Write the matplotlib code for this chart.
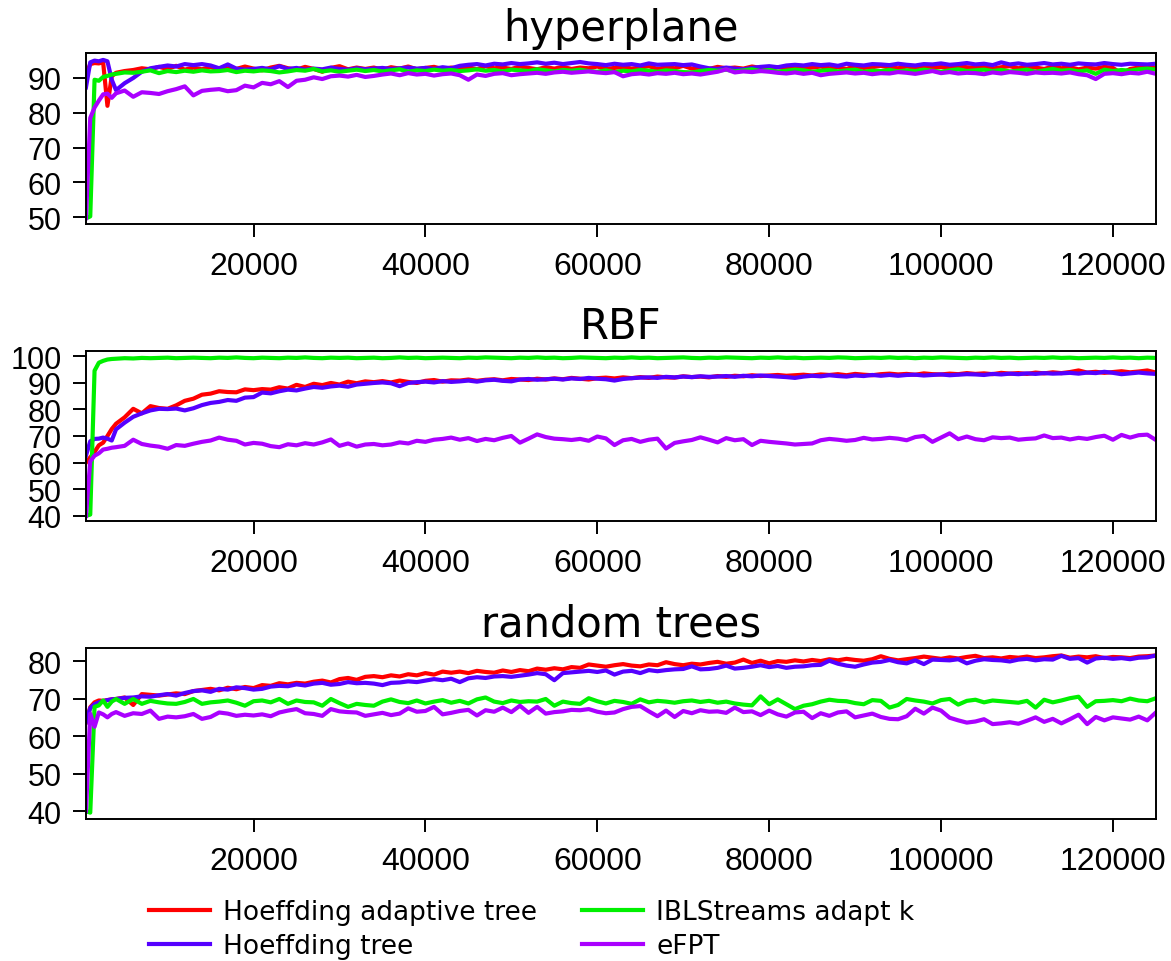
import matplotlib
matplotlib.use('Agg')
import matplotlib.pyplot as plt
import numpy as np

# x positions (number of instances)
x = [500, 1000, 1500, 2000, 2500, 3000, 3500] + list(range(4000, 125001, 1000))

series_names = ['Hoeffding adaptive tree', 'Hoeffding tree', 'IBLStreams adapt k', 'eFPT']
series_colors = ['#FF0000', '#5500FF', '#00F000', '#AA00FF']

# ---- hyperplane ----
hyp_hat = [91, 94, 94.3, 94.2, 94.5, 82, 90.5,
           91.5, 92, 92.3, 92.8, 92.5, 93.2, 92.6, 93.5, 92.4, 93,
           92.5, 93.2, 92.3, 92.8, 92.6, 93.3, 92.7, 92.2, 93, 93.5,
           92.8, 92.4, 93.2, 92.6, 91.8, 92.9, 93.4, 92.5, 93, 92.6,
           93, 92.4, 93.1, 92.7, 93.3, 92.5, 92.9, 93.2, 92.6, 93,
           92.7, 93.1, 92.5, 93.4, 92.8, 93, 92.6, 93.3, 92.9, 92.5,
           93.1, 92.7, 93.2, 92.6, 93, 92.8, 93.3, 92.6, 92.9, 93.2,
           92.7, 93, 93.4, 92.6, 93.1, 92.8, 93.5, 92.7, 93, 92.6,
           93.2, 92.8, 93, 92.7, 93.3, 92.9, 92.6, 93.1, 92.8, 93.2,
           92.7, 93, 93.3, 92.8, 93.1, 92.6, 93.4, 92.9, 93.1, 93.5,
           93, 92.8, 93.3, 93, 93.5, 92.9, 93.2, 92.8, 93.4, 93.1,
           92.9, 93.3, 92.7, 93.1, 93.4, 92.8, 93.2, 93, 92.6, 93.3,
           92.8, 93.1, 92.5, 93, 92.7, 93.2, 92.9, 91.3, 92.6, 93,
           93.2, 92.8]
hyp_ht = [87.3, 94.5, 95, 94.8, 95.2, 94.8, 89.5,
          86.5, 88.5, 90, 91.8, 92.8, 93.2, 93.6, 93.3, 94, 93.7,
          94, 93.6, 92.8, 93.9, 92.7, 92.4, 92.6, 92.9, 92.5, 93.4,
          92.6, 92.9, 92.4, 92.7, 92.5, 93, 92.6, 92.4, 92.8, 92.5,
          92.7, 92.9, 92.6, 92.8, 93, 92.7, 92.9, 92.6, 93.1, 92.8,
          93.5, 93.8, 94, 93.6, 94.1, 93.9, 94.3, 94, 94.2, 94.5,
          94.1, 94.4, 94, 94.3, 94.6, 94.2, 94, 93.7, 94.1, 93.8,
          94, 93.6, 94.2, 93.8, 93.9, 94, 93.7, 93.9, 93.3, 92.8,
          92.6, 93, 92.7, 92.5, 92.9, 93.2, 93.4, 93.1, 93.6, 93.8,
          93.6, 94, 93.7, 93.9, 93.5, 94.1, 93.8, 93.6, 94, 93.9,
          93.7, 94.1, 93.8, 93.6, 94, 93.9, 94.2, 93.8, 94, 94.3,
          93.9, 94.1, 93.7, 94.5, 93.9, 94.2, 93.8, 94, 94.3, 93.9,
          94.1, 93.8, 94.2, 94, 93.9, 94.3, 94, 93.8, 94.1, 94,
          93.9, 94.1]
hyp_ibl = [49.6, 50.2, 89.5, 89.2, 90.3, 90.6, 91,
           91.2, 91.6, 91.5, 91.8, 92.2, 91.4, 92, 91.7, 92.1, 91.8,
           92.2, 91.9, 92, 92.3, 91.7, 92.1, 91.9, 92.2, 92, 91.6,
           91.9, 92.3, 92.1, 92.6, 91.9, 92.2, 91.8, 92.1, 92.4, 92,
           92.3, 91.9, 92.2, 92.5, 91.8, 92.2, 92, 92.4, 92.1, 92.3,
           92, 92.2, 92.5, 92.1, 92.3, 91.9, 92.4, 92.2, 92, 92.5,
           92.2, 91.9, 92.3, 92.1, 92.4, 92, 91.8, 92.2, 91.7, 92.1,
           91.9, 92.3, 92.1, 91.8, 92.2, 92, 91.7, 91.6, 92, 92.3,
           92.1, 92.4, 91.9, 92.2, 92.5, 92, 92.3, 91.8, 92.1, 92.4,
           92.2, 91.8, 92.1, 92.3, 91.9, 92.2, 92.4, 91.8, 92.1, 92,
           92.3, 91.9, 92.2, 92, 92.4, 92.1, 91.8, 92.2, 92.5, 92,
           92.2, 92.4, 92, 92.3, 91.9, 92.1, 92.4, 91.8, 92.2, 92.6,
           92.1, 92.3, 91.9, 92.2, 91.2, 92.4, 92, 92.3, 92.1, 92.5,
           92.7, 92.4]
hyp_efpt = [49.7, 78.5, 81.5, 83.5, 85.3, 85.5, 84.3,
            85.6, 86.4, 84.6, 85.9, 85.7, 85.4, 86.2, 86.8, 87.6, 85,
            86.3, 86.6, 86.8, 86.2, 86.5, 87.8, 87.3, 88.6, 88.2, 89.1,
            87.4, 89.2, 89.5, 90.2, 89.7, 90.5, 90.7, 90.4, 90.9, 90.3,
            90.6, 91, 91.3, 90.8, 91.4, 91, 91.2, 90.7, 91.1, 91.3,
            90.8, 89.5, 91, 90.6, 91.2, 91.4, 90.8, 91.1, 91.3, 91.5,
            91.2, 91.6, 91.8, 91.5, 91.7, 91.9, 91.6, 91.4, 91.7, 90.5,
            91.1, 91.3, 91, 91.4, 91.2, 91.5, 91.1, 91.3, 91, 91.4,
            91.8, 92.5, 91.6, 91.9, 91.7, 92, 91.8, 91.5, 91.3, 91.6,
            91.2, 91.5, 90.8, 91.2, 91.4, 91.6, 91.3, 91.5, 91.1, 91.4,
            91.3, 91.7, 91.5, 91.2, 91.6, 92, 91.4, 91.7, 91.3, 91.5,
            91.4, 91.1, 91.6, 91.3, 91.7, 91.5, 91.2, 91.6, 91.4, 91.5,
            91.3, 91.6, 91.1, 90.8, 89.7, 91.2, 91.4, 91.1, 91.5, 91.3,
            91.8, 91.2]

# ---- RBF ----
rbf_hat = [60, 62, 64, 66.5, 67.5, 70, 72.6,
           74.6, 77, 80.2, 78.5, 81.2, 80.5, 80.2, 81.5, 83.2, 84,
           85.5, 85.9, 86.8, 86.5, 86.4, 87.5, 87.2, 87.6, 87.4, 88.3,
           87.8, 89.2, 88.4, 89.6, 89.1, 89.9, 89.3, 90.4, 89.8, 90.5,
           90.2, 90.6, 90.1, 90.8, 90.3, 89.9, 90.7, 91, 90.4, 90.9,
           90.8, 91.2, 90.7, 91.1, 91.3, 90.9, 91.4, 91.2, 91, 91.5,
           91.2, 91.6, 91.3, 91.8, 91.5, 91.2, 91.7, 91.9, 91.6, 92,
           91.7, 92.1, 91.8, 92.3, 92, 91.9, 92.4, 92.1, 92.3, 92,
           92.5, 92.2, 92.6, 92.4, 92.8, 92.5, 92.7, 92.9, 92.6, 92.8,
           93, 92.7, 93.1, 92.9, 93.2, 92.8, 93.3, 93, 92.8, 93.2,
           93.4, 93.1, 93.3, 93, 93.5, 93.2, 93.1, 93.4, 93.2, 93.6,
           93.3, 93.5, 93.2, 93.7, 93.4, 93.6, 93.3, 93.8, 93.5, 93.9,
           93.6, 94, 94.6, 93.8, 94.1, 93.7, 94, 94.3, 93.9, 94.2,
           94.6, 93.8]
rbf_ht = [62.6, 68, 68.9, 69, 69.4, 69, 68.3,
          72.5, 75, 77.2, 78.5, 79.6, 80.2, 80.1, 80.3, 79.6, 80.4,
          81.6, 82.4, 82.8, 83.5, 83.2, 84.4, 84.6, 86.3, 86, 86.8,
          87.4, 87.1, 87.8, 88.4, 88.1, 88.6, 88.9, 88.5, 89.3, 89.6,
          89.9, 90.1, 89.8, 88.7, 89.9, 90.2, 90.4, 90.1, 90.6, 90.3,
          90.5, 90.8, 90.4, 90.9, 91.1, 90.7, 90.5, 91.2, 91.4, 91.1,
          91.3, 91.5, 91.2, 91.6, 91.4, 91.8, 91.5, 91.3, 90.8, 91.4,
          91.7, 91.9, 92, 91.8, 92.2, 92, 92.3, 92.1, 92.4, 92.2,
          92.3, 92.5, 92.2, 92.6, 92.4, 92.7, 92.5, 92.3, 92.1, 91.8,
          92.3, 92.6, 92.4, 92.8, 92.5, 92.3, 92.7, 92.5, 92.9, 92.6,
          92.9, 92.6, 92.9, 93, 92.7, 92.9, 93.1, 92.8, 93, 93.2,
          93.1, 92.9, 93.3, 93.1, 93.4, 93.2, 93.5, 93.3, 93.6, 93.4,
          93.5, 93.7, 93.4, 93.8, 93.6, 94.1, 93.7, 93.2, 93.5, 93.8,
          93.5, 93.3]
rbf_ibl = [40, 40.5, 94.5, 97.5, 98.2, 98.7, 98.9,
           99.0, 99.2, 99.1, 99.3, 99.2, 99.3, 99.4, 99.2, 99.3, 99.4,
           99.3, 99.2, 99.4, 99.3, 99.5, 99.3, 99.2, 99.4, 99.3, 99.2,
           99.4, 99.3, 99.5, 99.3, 99.2, 99.4, 99.3, 99.4, 99.2, 99.3,
           99.4, 99.2, 99.3, 99.5, 99.3, 99.4, 99.2, 99.3, 99.4, 99.3,
           99.2, 99.4, 99.3, 99.5, 99.4, 99.3, 99.2, 99.4, 99.3, 99.5,
           99.3, 99.4, 99.2, 99.3, 99.5, 99.4, 99.3, 99.2, 99.4, 99.3,
           99.5, 99.3, 99.4, 99.2, 99.3, 99.4, 99.5, 99.3, 99.2, 99.4,
           99.3, 99.5, 99.4, 99.3, 99.2, 99.4, 99.3, 99.5, 99.3, 99.4,
           99.2, 99.3, 99.4, 99.3, 99.5, 99.4, 99.2, 99.3, 99.4, 99.3,
           99.5, 99.3, 99.4, 99.2, 99.4, 99.3, 99.5, 99.4, 99.3, 99.2,
           99.4, 99.3, 99.5, 99.3, 99.4, 99.2, 99.3, 99.4, 99.3, 99.5,
           99.3, 99.4, 99.2, 99.3, 99.4, 99.3, 99.5, 99.3, 99.4, 99.2,
           99.4, 99.3]
rbf_efpt = [40, 60.5, 62.6, 63.5, 64.9, 65.2, 65.6,
            65.8, 66.3, 68.6, 67, 66.4, 66, 65.2, 66.6, 66.3, 67.1,
            67.8, 68.3, 69.4, 68.6, 68.2, 66.8, 67.4, 67.1, 66.2, 65.8,
            66.9, 66.5, 67.3, 66.8, 67.6, 68.7, 66.3, 67.2, 66, 66.8,
            67, 66.5, 66.8, 67.6, 67.2, 68.2, 67.8, 68.6, 68.9, 69.4,
            68.6, 69.2, 68.1, 68.9, 68.4, 69.3, 70, 67.5, 69, 70.6,
            69.6, 69, 68.8, 68.5, 68.9, 68.2, 69.8, 69.1, 66.6, 68.4,
            68.9, 67.8, 68.6, 69, 65.3, 67.4, 68, 68.5, 69.5, 68.6,
            67.6, 69.2, 68.4, 68.8, 66.6, 68.2, 67.8, 67.5, 67.2, 66.8,
            67, 67.2, 68.4, 68.9, 68.6, 68.2, 68.5, 69.3, 68.7, 68.9,
            69.3, 69, 68.4, 69.6, 70, 67.8, 69.4, 71, 68.8, 69.8,
            68.8, 68.4, 69.5, 69.2, 69.4, 68.6, 68.9, 69.1, 70.2, 69.2,
            69.4, 68.7, 69.3, 68.9, 69.6, 70.1, 68.6, 70.4, 69.4, 70.3,
            70.5, 68.5]

# ---- random trees ----
rt_hat = [63.7, 67.7, 69, 69.5, 69.4, 69.6, 69.8,
          69.9, 70.3, 68.3, 71.2, 71, 70.8, 71.1, 71.4, 71.2, 72,
          72.3, 72.6, 72.2, 72.9, 72.5, 73.1, 72.8, 73.6, 73.4, 74.1,
          73.8, 74.2, 74, 74.5, 74.8, 74.3, 75.2, 75.5, 75, 75.8,
          76, 75.7, 76.2, 75.9, 76.5, 76.2, 76.8, 76.4, 77.2, 76.9,
          77.2, 76.8, 77.4, 77.1, 76.9, 77.5, 77.1, 77.6, 77.3, 78,
          77.7, 78.1, 77.8, 78.4, 78.2, 79.1, 78.8, 78.5, 78.9, 79.2,
          78.8, 78.6, 79.1, 78.9, 79.7, 79.2, 78.9, 79.3, 79.1, 79.5,
          79.8, 79.3, 79.6, 80.4, 79.5, 80.1, 79.4, 80, 79.8, 80.2,
          79.9, 80.3, 80, 80.5, 80.2, 80.6, 80.3, 80.1, 80.5, 81.3,
          80.6, 80.2, 80.5, 80.8, 81.2, 80.9, 80.6, 81, 80.7, 81.1,
          81.4, 80.8, 81, 80.7, 81.1, 80.9, 81.2, 80.8, 81, 81.3,
          81.5, 80.9, 81.2, 81, 81.3, 80.8, 81.1, 81, 80.8, 81.2,
          81.3, 81.5]
rt_ht = [63.7, 67.5, 68.5, 69, 69.3, 69.6, 69.8,
         69.9, 70.2, 70.3, 70.6, 70.5, 70.9, 71.2, 70.8, 71.5, 72,
         72.2, 71.8, 72.6, 72.4, 73, 72.8, 72.4, 72.6, 73.2, 73.4,
         73.3, 73.8, 73.5, 74, 74.2, 73.7, 73.9, 74.4, 74.1, 74.2,
         74, 73.6, 74.2, 74.3, 74.6, 74.4, 74.8, 75.2, 74.9, 75.3,
         74.4, 75.4, 75.7, 75.5, 75.9, 76, 75.8, 76.1, 76.4, 76.8,
         76.5, 74.9, 76.8, 77, 77.2, 77.4, 77.1, 77.5, 76.4, 77.2,
         77.4, 76.8, 77.6, 77.3, 77.6, 77.8, 77.9, 78.6, 77.8, 77.9,
         78.2, 78.8, 78, 78.2, 78.5, 78.9, 78.4, 78.7, 78.2, 78.5,
         78.6, 78.9, 79, 80.1, 79.3, 78.8, 78.5, 79.1, 79.6, 79.8,
         80.3, 79.7, 79.4, 80.2, 79.2, 80.4, 80.3, 80.2, 80.5, 79.4,
         80.1, 80.5, 80.3, 80.2, 79.9, 80.4, 80.6, 80.2, 80.5, 80.4,
         81.4, 80.6, 80.8, 79.6, 80.7, 80.9, 80.6, 80.8, 80.5, 80.9,
         81, 81.5]
rt_ibl = [40, 39.6, 67.8, 68.2, 69.5, 67.8, 69.2,
          69.9, 68.6, 69.9, 68.6, 69.4, 69, 68.7, 68.6, 69.1, 69.9,
          68.6, 69, 69.2, 69.5, 68.9, 68.1, 69.3, 69.5, 69, 69.9,
          68.6, 69.5, 69.1, 69, 68.1, 69.9, 68.8, 67.8, 68.6, 68.3,
          68.1, 69.2, 69.8, 69.1, 68.8, 69.5, 68.7, 69.2, 69.6, 68.9,
          69.4, 68.7, 69.8, 70.3, 69.2, 68.8, 69.5, 69.1, 69.3, 69.2,
          69.9, 68.1, 69.2, 68.8, 68.6, 70.1, 69.3, 68.7, 69.4, 69.1,
          68.6, 69.8, 69, 69.4, 69.2, 68.9, 69.3, 69.5, 69.1, 69.4,
          68.9, 69.2, 68.7, 68.4, 68.2, 70.6, 68.5, 69.8, 68.5, 67.2,
          68.1, 68.5, 69.2, 69.7, 69.4, 69.3, 68.8, 68.5, 69.6, 69.4,
          67.6, 68.3, 69.9, 69.5, 69.2, 68.7, 69.6, 69.9, 68.4, 69.4,
          69.7, 69, 69.5, 69.3, 69.1, 68.9, 69.4, 67.6, 69.7, 69,
          69.5, 70.1, 70.5, 67.8, 69.3, 69.4, 69.6, 69.3, 70, 69.5,
          69.3, 70.1]
rt_efpt = [40, 66, 62.5, 66.3, 65.8, 65, 65.9,
           66.4, 65.4, 66.1, 65.9, 66.8, 64.6, 65.2, 65, 65.3, 65.9,
           64.6, 65.1, 66.3, 66, 65.4, 65.7, 65.5, 65.8, 65.3, 66.3,
           66.8, 67.2, 66.1, 65.9, 65.4, 67.2, 66.6, 66.4, 66.3, 65.4,
           65.8, 66.2, 65.6, 66, 67.4, 66.5, 66.7, 67.8, 65.8, 66.2,
           66.7, 67, 65.5, 66.9, 66.5, 67.6, 66.4, 68.1, 66.2, 67.8,
           66, 66.4, 66.6, 67, 66.9, 67.2, 66.5, 66.1, 66.3, 67.2,
           67.8, 68, 66.6, 65.3, 66.8, 65.1, 66.7, 66.1, 66.9, 66.5,
           66.6, 66.2, 67.6, 66.4, 66.6, 65.6, 66.8, 65.8, 65.2, 66.3,
           66.5, 64.8, 66.1, 65.4, 66.3, 66.6, 65, 65.5, 66, 65.1,
           64.6, 64.5, 65.3, 67.3, 66, 67.6, 66.8, 64.9, 64.2, 63.6,
           63.9, 64.5, 63.2, 63.4, 63.7, 63.3, 64.1, 65, 63.8, 64.6,
           63.4, 64.5, 65.7, 63.2, 65.1, 64.2, 65, 64.7, 64.4, 65.2,
           64.2, 66.3]

panels = [
    ('hyperplane', [hyp_hat, hyp_ht, hyp_ibl, hyp_efpt], (48, 97.2), [50, 60, 70, 80, 90]),
    ('RBF', [rbf_hat, rbf_ht, rbf_ibl, rbf_efpt], (38.1, 101.9), [40, 50, 60, 70, 80, 90, 100]),
    ('random trees', [rt_hat, rt_ht, rt_ibl, rt_efpt], (37.9, 83.5), [40, 50, 60, 70, 80]),
]

# axes placement in figure fractions: left, bottom, width, height
axes_pos = [
    (0.0734, 0.7661, 0.9137, 0.1778),
    (0.0734, 0.4574, 0.9137, 0.1767),
    (0.0734, 0.1476, 0.9137, 0.1778),
]

fig = plt.figure(figsize=(11.71, 9.62), dpi=100)
handles = []
for (title, ys, ylim, yticks), pos in zip(panels, axes_pos):
    ax = fig.add_axes(pos)
    for y, c in zip(ys, series_colors):
        assert len(y) == len(x)
        h, = ax.plot(x, y, color=c, lw=3, solid_joinstyle='round')
        if len(handles) < 4:
            handles.append(h)
    ax.set_xlim(500, 125000)
    ax.set_ylim(*ylim)
    ax.set_yticks(yticks)
    ax.set_xticks([20000, 40000, 60000, 80000, 100000, 120000])
    ax.set_xticklabels(['20000', '40000', '60000', '80000', '100000', '120000'])
    ax.tick_params(direction='out', length=9.5, width=1.4, labelsize=22, pad=8)
    ax.tick_params(axis='x', labelsize=23, pad=10)
    for lab in ax.get_xticklabels() + ax.get_yticklabels():
        lab.set_family('Liberation Sans')
    for sp in ax.spines.values():
        sp.set_linewidth(1.4)
    ax.set_title(title, fontsize=30, pad=9)

fig.legend(handles, series_names, loc='upper left', bbox_to_anchor=(0.1274, 0.0646),
           ncol=2, frameon=False, fontsize=19, handlelength=2.3, handletextpad=0.5,
           columnspacing=1.72, labelspacing=0.3, borderpad=0, borderaxespad=0)

fig.savefig('out.png', dpi=100)
